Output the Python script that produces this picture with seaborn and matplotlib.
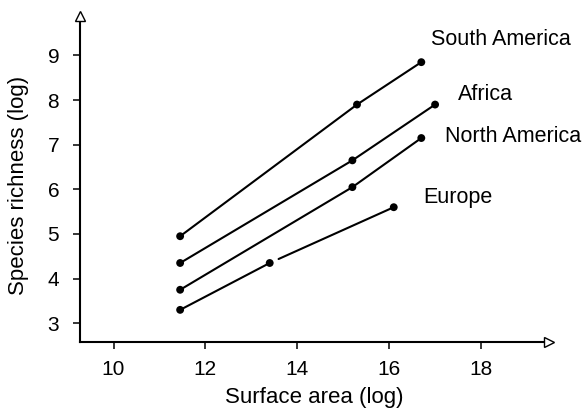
import matplotlib.pyplot as plt
import numpy as np
import pandas as pd
import seaborn as sns

# data (log scale values)
continents = ['South America', 'Africa', 'North America', 'Europe']
sa_area = [11.45, 15.3, 16.7]
sa_rich = [4.95, 7.9, 8.85]
af_area = [11.45, 15.2, 17.0]
af_rich = [4.35, 6.65, 7.9]
na_area = [11.45, 15.2, 16.7]
na_rich = [3.75, 6.05, 7.15]
eu_area = [11.45, 13.4, 16.1]
eu_rich = [3.3, 4.35, 5.6]

x_ticks = [10, 12, 14, 16, 18]
y_ticks = [3, 4, 5, 6, 7, 8, 9]

areas = [sa_area, af_area, na_area, eu_area]
richs = [sa_rich, af_rich, na_rich, eu_rich]

rows = []
for name, xs, ys in zip(continents, areas, richs):
    for x, y in zip(xs, ys):
        rows.append({'continent': name, 'area': x, 'richness': y})
df = pd.DataFrame(rows)

# Europe: first segment joined to the middle point, second one drawn apart
df['segment'] = df['continent']
df.loc[(df['continent'] == 'Europe') & (df['area'] > eu_area[1]), 'segment'] = 'Europe_2'

sns.set_style('ticks')
plt.rcParams['font.family'] = ['Liberation Sans', 'DejaVu Sans']
plt.rcParams['text.color'] = 'black'
plt.rcParams['axes.labelcolor'] = 'black'
plt.rcParams['xtick.color'] = 'black'
plt.rcParams['ytick.color'] = 'black'

fig = plt.figure(figsize=(5.83, 4.11), dpi=100)
ax = fig.add_axes([0.1372, 0.1679, 0.8053, 0.7927])

sns.lineplot(data=df[df['segment'] != 'Europe_2'], x='area', y='richness', units='segment',
             estimator=None, sort=False, color='black', linewidth=1.5, ax=ax)

# the gap after the middle Europe point
ax.annotate('', xy=(eu_area[2], eu_rich[2]), xytext=(eu_area[1], eu_rich[1]),
            arrowprops=dict(arrowstyle='-', color='black', lw=1.5, shrinkA=7, shrinkB=0))

sns.scatterplot(data=df, x='area', y='richness', color='black', s=32, edgecolor='none',
                zorder=5, ax=ax)

# continent names next to the last points
offsets = {'South America': (10, 17), 'Africa': (23, 5), 'North America': (24, -4), 'Europe': (30, 4)}
for name, xs, ys in zip(continents, areas, richs):
    ax.annotate(name, xy=(xs[-1], ys[-1]), xytext=offsets[name], textcoords='offset pixels',
                fontsize=15.5, ha='left', va='baseline', color='black')

ax.set_xlim(9.27, 19.49)
ax.set_ylim(2.58, 9.88)
ax.set_xticks(x_ticks)
ax.set_yticks(y_ticks)
ax.tick_params(axis='both', direction='out', length=5, width=1.1, labelsize=15, color='black')
ax.tick_params(axis='x', pad=8)
ax.tick_params(axis='y', pad=10)
ax.set_xlabel('Surface area (log)', fontsize=16, labelpad=6)
ax.set_ylabel('Species richness (log)', fontsize=16)
ax.yaxis.set_label_coords(-0.108, 0.482)

sns.despine(ax=ax)
for s in ['left', 'bottom']:
    ax.spines[s].set_linewidth(1.5)
    ax.spines[s].set_color('black')

# open arrow heads at the axis ends
ax.plot([0], [1], marker='^', markersize=7, markerfacecolor='white', markeredgecolor='black',
        markeredgewidth=1, transform=ax.transAxes, clip_on=False, zorder=10)
ax.plot([1], [0], marker='>', markersize=7, markerfacecolor='white', markeredgecolor='black',
        markeredgewidth=1, transform=ax.transAxes, clip_on=False, zorder=10)

plt.savefig('out.png', dpi=100)
